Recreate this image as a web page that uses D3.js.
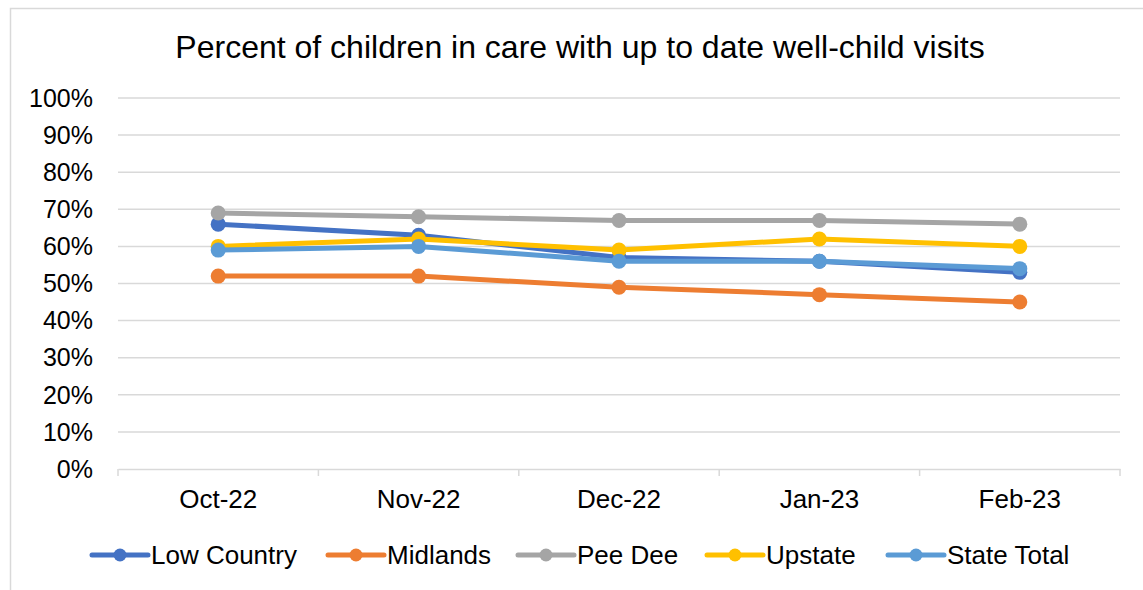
<!DOCTYPE html>
<html><head><meta charset="utf-8">
<script src="https://cdn.jsdelivr.net/npm/d3@7/dist/d3.min.js"></script>
<style>body{margin:0;background:#fff;} text{font-family:"Liberation Sans",Arial,sans-serif;fill:#000;}</style>
</head><body><svg id="c" width="1143" height="590"></svg>
<script>
const categories = ["Oct-22","Nov-22","Dec-22","Jan-23","Feb-23"];
const seriesNames = ["Low Country","Midlands","Pee Dee","Upstate","State Total"];
const seriesColors = ["#4472C4","#ED7D31","#A5A5A5","#FFC000","#5B9BD5"];
const lowCountry = [66,63,57,56,53];
const midlands = [52,52,49,47,45];
const peeDee = [69,68,67,67,66];
const upstate = [60,62,59,62,60];
const stateTotal = [59,60,56,56,54];
const yTicks = [0,10,20,30,40,50,60,70,80,90,100];
const title = "Percent of children in care with up to date well-child visits";

const seriesValues = [lowCountry, midlands, peeDee, upstate, stateTotal];
const svg = d3.select("#c");
svg.append("rect").attr("x",10.5).attr("y",8.5).attr("width",1140).attr("height",600)
  .attr("fill","#fff").attr("stroke","#d9d9d9").attr("stroke-width",1.5);

svg.append("text").attr("x",580).attr("y",58).attr("text-anchor","middle")
  .style("font-size","32px").text(title);

const x0 = 118, x1 = 1120;
const y = d3.scaleLinear().domain([0,100]).range([469,98]);
const xb = d3.scaleBand().domain(categories).range([x0,x1]);
const xc = d => xb(d) + xb.bandwidth()/2;

// gridlines
svg.append("g").selectAll("line").data(yTicks.filter(t=>t>0)).join("line")
  .attr("x1",x0).attr("x2",x1).attr("y1",d=>y(d)).attr("y2",d=>y(d))
  .attr("stroke","#d9d9d9").attr("stroke-width",1.5);

// y labels
svg.append("g").selectAll("text").data(yTicks).join("text")
  .attr("x",93).attr("y",d=>y(d)).attr("dy","0.35em").attr("text-anchor","end")
  .style("font-size","25px").text(d=>d+"%");

// x axis
const xAxis = d3.axisBottom(xb).tickSize(0).tickPadding(21);
const gx = svg.append("g").attr("transform",`translate(0,${y(0)})`).call(xAxis);
gx.select(".domain").attr("stroke","#d9d9d9").attr("stroke-width",1.5);
gx.selectAll("text").style("font-size","26px").style("font-family","'Liberation Sans',Arial,sans-serif").attr("fill","#000");
// category boundary ticks
const bounds = categories.map(c=>xb(c)).concat([x1]);
svg.append("g").selectAll("line").data(bounds).join("line")
  .attr("x1",d=>d).attr("x2",d=>d).attr("y1",y(0)).attr("y2",y(0)+7)
  .attr("stroke","#d9d9d9").attr("stroke-width",1.5);

// series
const line = d3.line().x((d,i)=>xc(categories[i])).y(d=>y(d));
seriesValues.forEach((vals,si)=>{
  const g = svg.append("g");
  g.append("path").attr("d",line(vals)).attr("fill","none")
    .attr("stroke",seriesColors[si]).attr("stroke-width",5).attr("stroke-linejoin","round").attr("stroke-linecap","round");
  g.selectAll("circle").data(vals).join("circle")
    .attr("cx",(d,i)=>xc(categories[i])).attr("cy",d=>y(d)).attr("r",7.5)
    .attr("fill",seriesColors[si]);
});

// legend
const legendX = [92,328,518,707,888];
const ly = 555;
seriesNames.forEach((n,i)=>{
  const g = svg.append("g").attr("transform",`translate(${legendX[i]},${ly})`);
  g.append("line").attr("x1",0).attr("x2",56).attr("y1",0).attr("y2",0)
    .attr("stroke",seriesColors[i]).attr("stroke-width",5).attr("stroke-linecap","round");
  g.append("circle").attr("cx",28).attr("cy",0).attr("r",6.5).attr("fill",seriesColors[i]);
  g.append("text").attr("x",59).attr("y",0).attr("dy","0.35em").style("font-size","26px").text(n);
});
</script></body></html>
